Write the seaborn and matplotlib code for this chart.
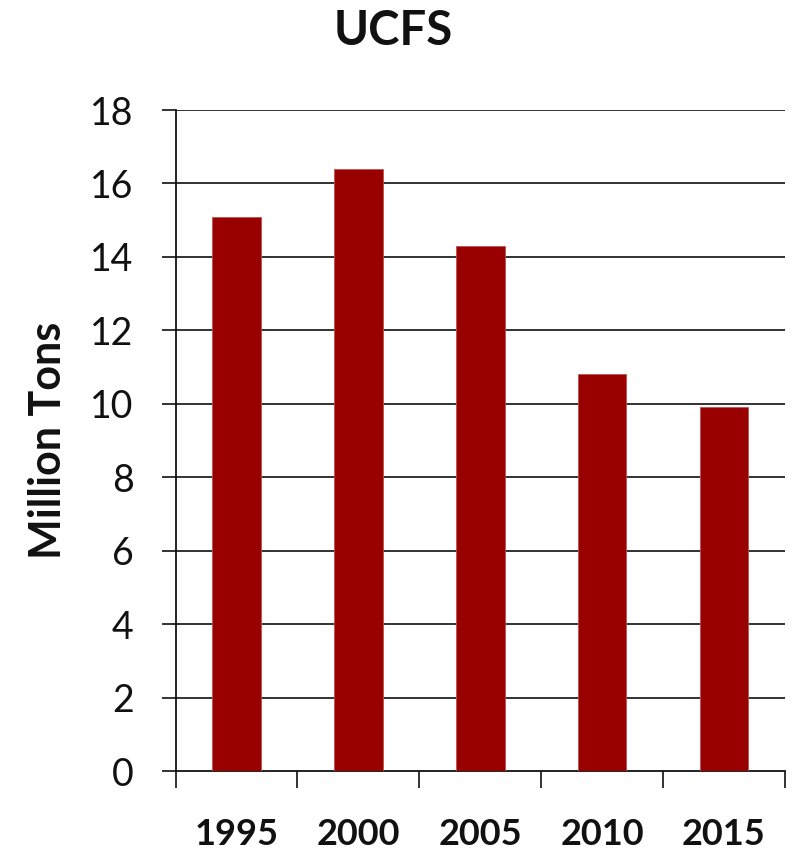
import matplotlib
matplotlib.use("Agg")
import matplotlib.pyplot as plt
import seaborn as sns
import pandas as pd
from matplotlib.ticker import FixedLocator

years = ["1995", "2000", "2005", "2010", "2015"]
tons = [15.1, 16.4, 14.3, 10.8, 9.9]
y_ticks = [0, 2, 4, 6, 8, 10, 12, 14, 16, 18]

sns.set_theme(style="white")
plt.rcParams["font.family"] = ["Lato", "DejaVu Sans"]

df = pd.DataFrame({"year": years, "tons": tons})

fig = plt.figure(figsize=(7.92, 8.55), dpi=100)
ax = fig.add_axes([0.2216, 0.0982, 0.991 - 0.2216, 0.8713 - 0.0982])

sns.barplot(data=df, x="year", y="tons", color="#990000", width=0.4,
            saturation=1, edgecolor="#c05050", linewidth=0.6, ax=ax, zorder=3)

ax.set_xlim(-0.5, len(years) - 0.5)
ax.set_ylim(0, 18)
ax.set_yticks(y_ticks)
ax.set_yticklabels([str(t) for t in y_ticks], fontsize=27)

# horizontal gridlines
for t in y_ticks[1:]:
    ax.axhline(t, color="#222222", linewidth=1.3, zorder=1)

for s in ["top", "right"]:
    ax.spines[s].set_visible(False)
for s in ["left", "bottom"]:
    ax.spines[s].set_color("#111111")
    ax.spines[s].set_linewidth(1.3)

ax.tick_params(axis="y", length=10, width=1.3, color="#222222", pad=20,
               left=True, labelcolor="#111111")
# category separators as minor ticks below the axis
ax.xaxis.set_minor_locator(FixedLocator([i - 0.5 for i in range(len(years) + 1)]))
ax.tick_params(axis="x", which="minor", length=12, width=1.3, color="#222222",
               bottom=True, direction="out")
ax.tick_params(axis="x", which="major", length=0, pad=34)
for lbl in ax.get_xticklabels():
    lbl.set_fontsize(26)
    lbl.set_fontweight("bold")
    lbl.set_color("#111111")

ax.set_xlabel("")
ax.set_ylabel("Million Tons", fontsize=31, fontweight="bold", color="#111111",
              labelpad=16)
fig.suptitle("UCFS", x=0.497, y=0.99, fontsize=34, fontweight="bold",
             color="#111111", va="top")

fig.savefig("out.png", dpi=100, facecolor="white")
